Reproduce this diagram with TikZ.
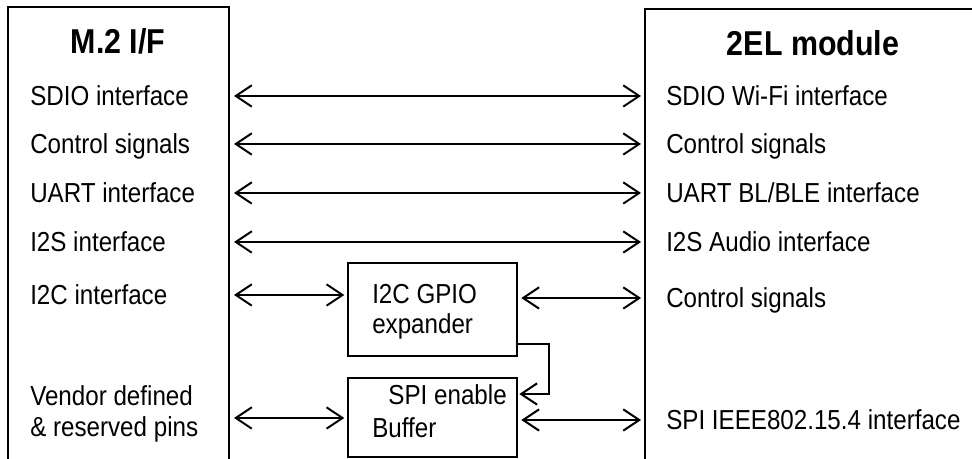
\documentclass[tikz,border=0pt]{standalone}
\usepackage{fontspec}
\setmainfont[FakeStretch=0.88]{Liberation Sans}
\usetikzlibrary{arrows.meta}

\begin{document}
\begin{tikzpicture}[x=0.75pt, y=-0.75pt,
	lbl/.style={anchor=base west, inner sep=0pt, font=\fontsize{20.6}{24}\selectfont},
	ttl/.style={anchor=base, inner sep=0pt, font=\fontsize{25.9}{29}\selectfont\bfseries},
	blk/.style={draw, line width=1.4pt, inner sep=0pt, minimum width=126.8pt},
	link/.style={line width=1.5pt, {Straight Barb[length=12pt,width=16pt]}-{Straight Barb[length=12pt,width=16pt]}},
	ctrl/.style={line width=1pt, -{Straight Barb[length=12pt,width=16pt,line width=1.5pt]}}]
	\useasboundingbox (0,0) rectangle (972,459);
	% the two sides
	\draw [line width=1.4pt] (8,470) -- (8,7) -- (229,7) -- (229,470);
	\draw [line width=1.4pt] (645,470) -- (645,9) -- (980,9);
	\node [ttl] (mtitle) at (118,54) {M.2 I/F};
	\node [ttl] (etitle) at (813,56) {2EL module};
	% straight through signals
	\foreach \y/\n/\l/\r in {96/sdio/SDIO interface/SDIO Wi-Fi interface,
			144/ctl/Control signals/Control signals,
			193/uart/UART interface/{UART BL/BLE interface},
			242/iis/I2S interface/I2S Audio interface}{
		\node [lbl] (l\n) at (30,\y+10) {\l};
		\node [lbl] (r\n) at (666,\y+10) {\r};
		\coordinate (la\n) at (234,\y);
		\coordinate (ra\n) at (641,\y);
		\draw [link] (la\n) -- (ra\n);
	}
	% expander and buffer
	\node [blk, minimum height=69.8pt] (gpio) at (432.5,309.5) {};
	\node [blk, minimum height=59.3pt] (buffer) at (432.5,417.5) {};
	\node [lbl] (gpiot) at (372,304) {I2C GPIO};
	\node [lbl] (gpioe) at (372,334) {expander};
	\node [lbl, anchor=base east] (spien) at (507,405) {SPI enable};
	\node [lbl] (buft) at (372,438) {Buffer};
	\node [lbl] (li2c) at (30,305) {I2C interface};
	\node [lbl] (rgpio) at (666,308) {Control signals};
	\node [lbl] (lvend) at (30,406) {Vendor defined};
	\node [lbl] (lresv) at (30,437) {\& reserved pins};
	\node [lbl] (rspi) at (666,430) {SPI IEEE802.15.4 interface};
	\coordinate (lai2c) at (234,295);
	\coordinate (ragpio) at (641,298);
	\coordinate (lavend) at (234,418);
	\coordinate (raspi) at (641,420);
	\draw [link, shorten >=2pt] (lai2c) -- (lai2c -| gpio.west);
	\draw [link, shorten <=2.5pt] (ragpio -| gpio.east) -- (ragpio);
	\draw [link, shorten >=2pt] (lavend) -- (lavend -| buffer.west);
	\draw [link, shorten <=2.5pt] (raspi -| buffer.east) -- (raspi);
	\draw [ctrl, shorten >=1pt] (gpio.east |- 0,344) -- (549,344) -- (549,394) -- (buffer.east |- 0,394);
\end{tikzpicture}
\end{document}
